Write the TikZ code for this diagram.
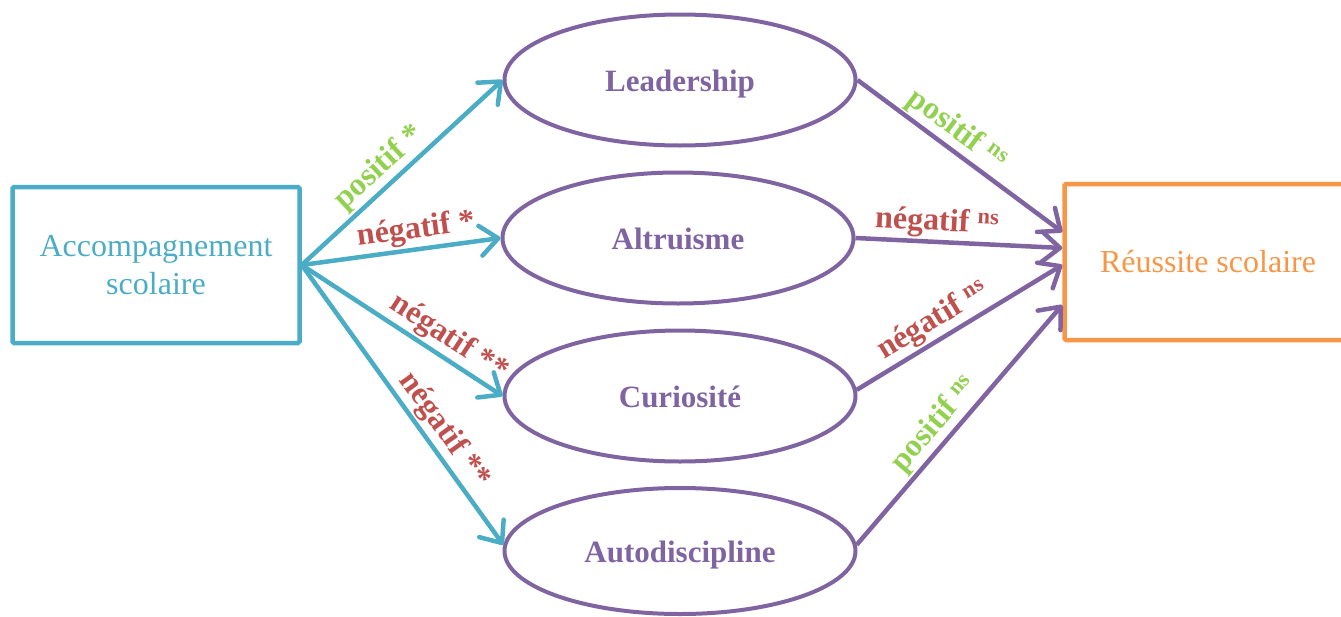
\documentclass[tikz,border=0pt]{standalone}
\usepackage{fontspec}
\setmainfont{Liberation Serif}
\usepackage{xcolor}
\usetikzlibrary{arrows.meta,positioning,shapes.geometric}
\definecolor{tealc}{HTML}{4BACC6}
\definecolor{violetc}{HTML}{8064A2}
\definecolor{orangec}{HTML}{F79646}
\definecolor{redc}{HTML}{C0504D}
\definecolor{greenc}{HTML}{92D050}

\begin{document}
\begin{tikzpicture}[x=1pt,y=-1pt,
  box/.style={draw,line width=4.5pt,rounded corners=1.5pt,minimum width=287pt,minimum height=156pt,align=center,font=\fontsize{32}{38}\selectfont},
  trait/.style={draw=violetc,line width=4pt,ellipse,minimum width=351pt,minimum height=131pt,text height=22pt,text depth=0pt,text=violetc,font=\fontsize{31}{37}\selectfont\bfseries},
  lbl/.style={sloped,above,inner sep=2pt,font=\fontsize{32}{38}\selectfont\bfseries},
  plus/.style={lbl,text=greenc},
  minus/.style={lbl,text=redc},
  link/.style={line width=4.5pt,->},
  >={Straight Barb[length=18pt,width=30pt,round]}]
\useasboundingbox (0,0) rectangle (1341,616);
\clip (0,0) rectangle (1341,616);
\node[box,draw=tealc,text=tealc] (acc) at (156,265) {Accompagnement\\scolaire};
\node[box,draw=orangec,text=orangec] (reu) at (1208,262) {Réussite scolaire};
\node[trait] (lead) at (680,80) {Leadership};
\node[trait] (altr) at (678,238) {Altruisme};
\node[trait] (curi) at (680,396) {Curiosité};
\node[trait,minimum height=126pt] (auto) at (680,551) {Autodiscipline};
% vers les traits
\draw[link,tealc] (acc.east)--node[plus,pos=0.45]{positif *}(lead.west);
\draw[link,tealc] (acc.east)--node[minus,pos=0.59]{négatif *}(altr.west);
\draw[link,tealc] (acc.east)--node[minus,pos=0.68]{négatif **}(curi.west);
\draw[link,tealc] (acc.east)--node[minus,pos=0.63]{négatif **}(auto.178);
% vers la reussite
\draw[link,violetc] (lead.east)--node[plus,pos=0.43]{positif \textsuperscript{ns}}([yshift=30pt]reu.west);
\draw[link,violetc] (altr.east)--node[minus,pos=0.39]{négatif \textsuperscript{ns}}([yshift=14pt]reu.west);
\draw[link,violetc] (curi.2)--node[minus,pos=0.42]{négatif \textsuperscript{ns}}([yshift=-3pt]reu.west);
\draw[link,violetc] (auto.2)--node[plus,pos=0.45]{positif \textsuperscript{ns}}([yshift=-43pt]reu.west);
\end{tikzpicture}
\end{document}
